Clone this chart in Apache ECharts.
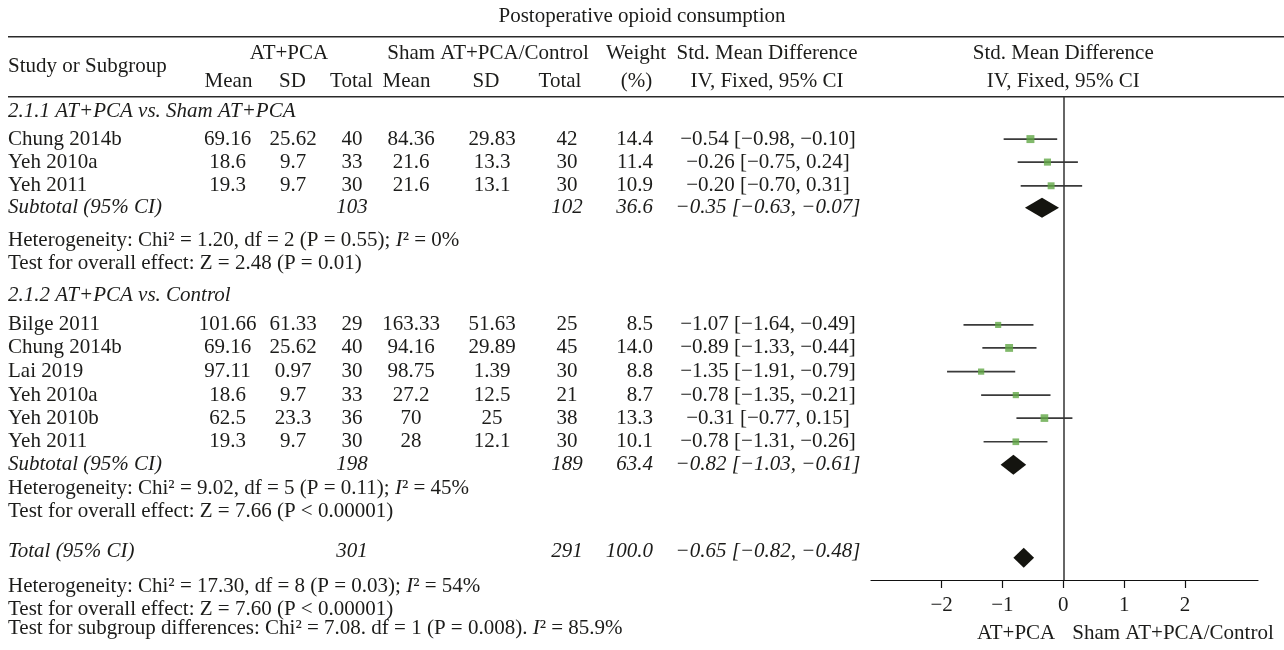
<!DOCTYPE html>
<html>
<head>
<meta charset="utf-8">
<script src="https://cdn.jsdelivr.net/npm/echarts@6/dist/echarts.min.js"></script>
<style>
html,body{margin:0;padding:0;background:#fff;}
#c{width:1284px;height:650px;}
</style>
</head>
<body>
<div id="c"></div>
<script>
// ================= DATA =================
const TITLE = 'Postoperative opioid consumption';
const GROUP_LABELS = ['2.1.1 AT+PCA vs. Sham AT+PCA', '2.1.2 AT+PCA vs. Control'];

// Group 1: AT+PCA vs. Sham AT+PCA
const g1Study   = ['Chung 2014b', 'Yeh 2010a', 'Yeh 2011'];
const g1ExpMean = [69.16, 18.6, 19.3];
const g1ExpSD   = [25.62, 9.7, 9.7];
const g1ExpN    = [40, 33, 30];
const g1CtlMean = [84.36, 21.6, 21.6];
const g1CtlSD   = [29.83, 13.3, 13.1];
const g1CtlN    = [42, 30, 30];
const g1Weight  = [14.4, 11.4, 10.9];
const g1SMD     = [-0.54, -0.26, -0.20];
const g1Lo      = [-0.98, -0.75, -0.70];
const g1Hi      = [-0.10, 0.24, 0.31];

// Group 2: AT+PCA vs. Control
const g2Study   = ['Bilge 2011', 'Chung 2014b', 'Lai 2019', 'Yeh 2010a', 'Yeh 2010b', 'Yeh 2011'];
const g2ExpMean = [101.66, 69.16, 97.11, 18.6, 62.5, 19.3];
const g2ExpSD   = [61.33, 25.62, 0.97, 9.7, 23.3, 9.7];
const g2ExpN    = [29, 40, 30, 33, 36, 30];
const g2CtlMean = [163.33, 94.16, 98.75, 27.2, 70, 28];
const g2CtlSD   = [51.63, 29.89, 1.39, 12.5, 25, 12.1];
const g2CtlN    = [25, 45, 30, 21, 38, 30];
const g2Weight  = [8.5, 14.0, 8.8, 8.7, 13.3, 10.1];
const g2SMD     = [-1.07, -0.89, -1.35, -0.78, -0.31, -0.78];
const g2Lo      = [-1.64, -1.33, -1.91, -1.35, -0.77, -1.31];
const g2Hi      = [-0.49, -0.44, -0.79, -0.21, 0.15, -0.26];

// Subtotals (group 1, group 2)
const subExpN   = [103, 198];
const subCtlN   = [102, 189];
const subWeight = [36.6, 63.4];
const subSMD    = [-0.35, -0.82];
const subLo     = [-0.63, -1.03];
const subHi     = [-0.07, -0.61];

// Overall total
const totExpN = 301, totCtlN = 291, totWeight = 100.0, totSMD = -0.65, totLo = -0.82, totHi = -0.48;

// Statistics text
const hetText = [
  'Heterogeneity: Chi² = 1.20, df = 2 (P = 0.55); {i|I}² = 0%',
  'Heterogeneity: Chi² = 9.02, df = 5 (P = 0.11); {i|I}² = 45%',
  'Heterogeneity: Chi² = 17.30, df = 8 (P = 0.03); {i|I}² = 54%'
];
const effectText = [
  'Test for overall effect: Z = 2.48 (P = 0.01)',
  'Test for overall effect: Z = 7.66 (P < 0.00001)',
  'Test for overall effect: Z = 7.60 (P < 0.00001)'
];
const subgroupText = 'Test for subgroup differences: Chi² = 7.08. df = 1 (P = 0.008). {i|I}² = 85.9%';

const xTicks = [-2, -1, 0, 1, 2];
const favourLabels = ['AT+PCA', 'Sham AT+PCA/Control'];

// ================= LAYOUT / STYLE =================
const FF = "'Liberation Serif', 'Times New Roman', serif";
const FS = 21;
const INK = '#1c1c1a';
const GREEN = '#62a846';
const COL = { name: 8, expMean: 227.5, expSD: 293, expN: 352, ctlMean: 411, ctlSD: 492, ctlN: 567, weightR: 653, ci: 768 };
// vertical row positions (in row units of the y axis)
const ROW = {
  g1Head: 0.64, g1Rows: [1.83, 2.83, 3.86], g1Sub: 4.82, g1Het: 6.22, g1Eff: 7.23,
  g2Head: 8.61, g2Rows: [9.91, 10.91, 11.94, 12.96, 13.96, 14.99], g2Sub: 15.99, g2Het: 17.0, g2Eff: 18.02,
  totText: 19.74, totMark: 20.03, totHet: 21.3, totEff: 22.3, subgroup: 23.1
};

function fmt2(v) { return (v < 0 ? '−' : '') + Math.abs(v).toFixed(2); }
function ciStr(m, l, h) { return fmt2(m) + ' [' + fmt2(l) + ', ' + fmt2(h) + ']'; }

// ================= FOREST MARKS =================
const ciData = [], estData = [], diaData = [];
g1SMD.forEach((m, i) => { ciData.push([g1Lo[i], g1Hi[i], ROW.g1Rows[i]]); estData.push([m, ROW.g1Rows[i], g1Weight[i]]); });
g2SMD.forEach((m, i) => { ciData.push([g2Lo[i], g2Hi[i], ROW.g2Rows[i]]); estData.push([m, ROW.g2Rows[i], g2Weight[i]]); });
diaData.push([subLo[0], subSMD[0], subHi[0], ROW.g1Sub]);
diaData.push([subLo[1], subSMD[1], subHi[1], ROW.g2Sub]);
diaData.push([totLo, totSMD, totHi, ROW.totMark]);

const chart = echarts.init(document.getElementById('c'), null, { renderer: 'canvas' });
const option = {
  animation: false,
  backgroundColor: '#ffffff',
  grid: { left: 871, width: 387, top: 97, bottom: 70, containLabel: false },
  xAxis: {
    type: 'value', min: -3.16, max: 3.2,
    axisLine: { show: true, onZero: false, lineStyle: { color: '#111', width: 1.2 } },
    axisTick: { show: true, customValues: xTicks, length: 8, inside: false, lineStyle: { color: '#111', width: 1.2 } },
    axisLabel: { show: true, customValues: xTicks, margin: 15, fontFamily: FF, fontSize: FS, color: INK,
      formatter: v => (v < 0 ? '−' + Math.abs(v) : String(v)) },
    splitLine: { show: false }
  },
  yAxis: { type: 'value', min: 0, max: 21, inverse: true, show: false },
  series: [
    {
      type: 'custom', name: 'ci', z: 2,
      encode: { x: [0, 1], y: 2 },
      data: ciData,
      renderItem: (params, api) => {
        const y = api.value(2);
        const a = api.coord([api.value(0), y]);
        const b = api.coord([api.value(1), y]);
        return { type: 'line', shape: { x1: a[0], y1: a[1], x2: b[0], y2: b[1] },
          style: { stroke: '#3a3a3a', lineWidth: 1.7 } };
      }
    },
    {
      type: 'scatter', name: 'estimate', z: 4,
      symbol: 'rect',
      symbolSize: v => 2.1 * Math.sqrt(v[2]),
      itemStyle: { color: GREEN },
      data: estData,
      markLine: {
        silent: true, symbol: 'none', animation: false,
        label: { show: false },
        lineStyle: { color: '#333', width: 1.5, type: 'solid' },
        data: [{ xAxis: 0 }]
      }
    },
    {
      type: 'custom', name: 'diamond', z: 3,
      encode: { x: [0, 1, 2], y: 3 },
      data: diaData,
      renderItem: (params, api) => {
        const y = api.value(3);
        const l = api.coord([api.value(0), y]);
        const m = api.coord([api.value(1), y]);
        const r = api.coord([api.value(2), y]);
        const h = 10;
        return { type: 'polygon', shape: { points: [[l[0], l[1]], [m[0], m[1] - h], [r[0], r[1]], [m[0], m[1] + h]] },
          style: { fill: '#14140f' } };
      }
    }
  ]
};
chart.setOption(option);

// ================= TABLE TEXT =================
const yPx = v => chart.convertToPixel({ yAxisIndex: 0 }, v);
const x0 = chart.convertToPixel({ xAxisIndex: 0 }, 0);

function T(text, x, y, align, italic) {
  return {
    type: 'text', x: x, y: y, silent: true, z: 10,
    style: {
      text: text, fill: INK, fontSize: FS, fontFamily: FF, fontStyle: italic ? 'italic' : 'normal',
      align: align, textAlign: align, verticalAlign: 'middle', textVerticalAlign: 'middle',
      rich: { i: { fontStyle: 'italic', fontSize: FS, fontFamily: FF, fill: INK } }
    }
  };
}
function L(x1, y1, x2, y2) {
  return { type: 'line', silent: true, shape: { x1, y1, x2, y2 }, style: { stroke: '#2a2a2a', lineWidth: 1.6 } };
}

const els = [];
// title & header
els.push(T(TITLE, 642, 16, 'center', false));
els.push(L(8, 36.7, 1284, 36.7));
els.push(L(8, 96.7, 1284, 96.7));
els.push(T('Study or Subgroup', COL.name, 66, 'left', false));
els.push(T('AT+PCA', 289, 53.5, 'center', false));
els.push(T('Sham AT+PCA/Control', 488, 53.5, 'center', false));
els.push(T('Weight', 636, 53.5, 'center', false));
els.push(T('Std. Mean Difference', 767, 53.5, 'center', false));
els.push(T('Std. Mean Difference', x0, 53.5, 'center', false));
els.push(T('Mean', 228.5, 81, 'center', false));
els.push(T('SD', 292.5, 81, 'center', false));
els.push(T('Total', 351.5, 81, 'center', false));
els.push(T('Mean', 406.5, 81, 'center', false));
els.push(T('SD', 486, 81, 'center', false));
els.push(T('Total', 560, 81, 'center', false));
els.push(T('(%)', 636.5, 81, 'center', false));
els.push(T('IV, Fixed, 95% CI', 767, 81, 'center', false));
els.push(T('IV, Fixed, 95% CI', x0, 81, 'center', false));

function studyRows(study, em, es, en, cm, cs, cn, w, m, lo, hi, rows) {
  study.forEach((s, i) => {
    const y = yPx(rows[i]);
    els.push(T(s, COL.name, y, 'left', false));
    els.push(T(String(em[i]), COL.expMean, y, 'center', false));
    els.push(T(String(es[i]), COL.expSD, y, 'center', false));
    els.push(T(String(en[i]), COL.expN, y, 'center', false));
    els.push(T(String(cm[i]), COL.ctlMean, y, 'center', false));
    els.push(T(String(cs[i]), COL.ctlSD, y, 'center', false));
    els.push(T(String(cn[i]), COL.ctlN, y, 'center', false));
    els.push(T(w[i].toFixed(1), COL.weightR, y, 'right', false));
    els.push(T(ciStr(m[i], lo[i], hi[i]), COL.ci, y, 'center', false));
  });
}
function summaryRow(label, en, cn, w, m, lo, hi, rowV) {
  const y = yPx(rowV);
  els.push(T(label, COL.name, y, 'left', true));
  els.push(T(String(en), COL.expN, y, 'center', true));
  els.push(T(String(cn), COL.ctlN, y, 'center', true));
  els.push(T(w.toFixed(1), COL.weightR, y, 'right', true));
  els.push(T(ciStr(m, lo, hi), COL.ci, y, 'center', true));
}

// group 1
els.push(T(GROUP_LABELS[0], COL.name, yPx(ROW.g1Head), 'left', true));
studyRows(g1Study, g1ExpMean, g1ExpSD, g1ExpN, g1CtlMean, g1CtlSD, g1CtlN, g1Weight, g1SMD, g1Lo, g1Hi, ROW.g1Rows);
summaryRow('Subtotal (95% CI)', subExpN[0], subCtlN[0], subWeight[0], subSMD[0], subLo[0], subHi[0], ROW.g1Sub);
els.push(T(hetText[0], COL.name, yPx(ROW.g1Het), 'left', false));
els.push(T(effectText[0], COL.name, yPx(ROW.g1Eff), 'left', false));
// group 2
els.push(T(GROUP_LABELS[1], COL.name, yPx(ROW.g2Head), 'left', true));
studyRows(g2Study, g2ExpMean, g2ExpSD, g2ExpN, g2CtlMean, g2CtlSD, g2CtlN, g2Weight, g2SMD, g2Lo, g2Hi, ROW.g2Rows);
summaryRow('Subtotal (95% CI)', subExpN[1], subCtlN[1], subWeight[1], subSMD[1], subLo[1], subHi[1], ROW.g2Sub);
els.push(T(hetText[1], COL.name, yPx(ROW.g2Het), 'left', false));
els.push(T(effectText[1], COL.name, yPx(ROW.g2Eff), 'left', false));
// total
summaryRow('Total (95% CI)', totExpN, totCtlN, totWeight, totSMD, totLo, totHi, ROW.totText);
els.push(T(hetText[2], COL.name, yPx(ROW.totHet), 'left', false));
els.push(T(effectText[2], COL.name, yPx(ROW.totEff), 'left', false));
els.push(T(subgroupText, COL.name, yPx(ROW.subgroup), 'left', false));
// favour labels under axis
els.push(T(favourLabels[0], x0 - 8, 633, 'right', false));
els.push(T(favourLabels[1], x0 + 9, 633, 'left', false));

chart.setOption({ graphic: { elements: els } });
</script>
</body>
</html>
